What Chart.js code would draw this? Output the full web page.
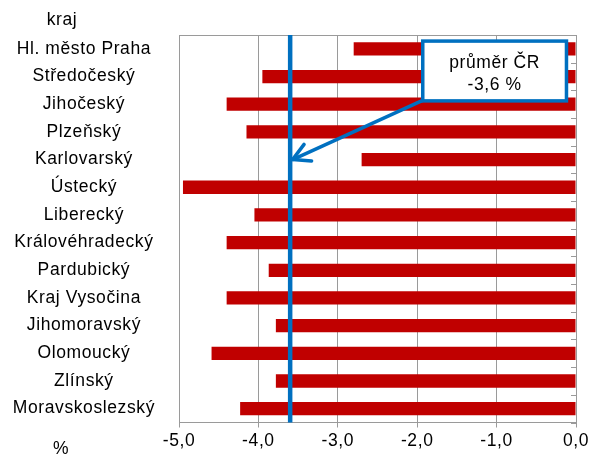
<!DOCTYPE html>
<html>
<head>
<meta charset="utf-8">
<script src="https://cdn.jsdelivr.net/npm/chart.js@4/dist/chart.umd.min.js"></script>
<style>
  html, body { margin: 0; padding: 0; background: #fff; }
  #wrap { width: 591px; height: 457px; }
</style>
</head>
<body>
<div id="wrap"><canvas id="graf"></canvas></div>
<script>
// kraje a meziroční změna v %
const kraje = ["Hl. město Praha", "Středočeský", "Jihočeský", "Plzeňský", "Karlovarský", "Ústecký",
  "Liberecký", "Královéhradecký", "Pardubický", "Kraj Vysočina", "Jihomoravský", "Olomoucký",
  "Zlínský", "Moravskoslezský"];
const zmena = [-2.8, -3.95, -4.4, -4.15, -2.7, -4.95, -4.05, -4.4, -3.87, -4.4, -3.78, -4.59, -3.78, -4.23];
const prumerCR = -3.6;
const osaX = [-5, -4, -3, -2, -1, 0];

const seda = "#9a9a9a";
const font = { family: "'Liberation Sans', Arial, sans-serif", size: 17.5 };
const rozpal = "0.6px"; // písmo v originále je o něco širší

function cislo(v) {
  return v.toFixed(1).replace(".", ",");
}

// širší proložení písma (stav kontextu se při změně velikosti plátna maže)
const pismo = {
  id: "pismo",
  beforeUpdate(chart) { chart.ctx.letterSpacing = rozpal; },
  beforeLayout(chart) { chart.ctx.letterSpacing = rozpal; },
  beforeDraw(chart) { chart.ctx.letterSpacing = rozpal; }
};

// průměrná čára, popisek se šipkou a nadpisy os
const doplnky = {
  id: "doplnky",
  afterDatasetsDraw(chart) {
    const c = chart.ctx;
    const x = chart.scales.x, y = chart.scales.y;
    const a = chart.chartArea;
    c.save();

    // rámeček grafu
    c.strokeStyle = seda;
    c.lineWidth = 1;
    c.beginPath();
    c.moveTo(a.left, a.top + 0.5);
    c.lineTo(a.right, a.top + 0.5);
    c.stroke();
    // drobné značky na svislé ose
    for (let i = 0; i <= kraje.length; i++) {
      const py = Math.round(y.getPixelForValue(i - 0.5)) + 0.5;
      c.beginPath();
      c.moveTo(a.right - 5, py);
      c.lineTo(a.right, py);
      c.stroke();
    }

    // průměr ČR
    const px = x.getPixelForValue(prumerCR);
    c.strokeStyle = "#0070C0";
    c.lineWidth = 4.5;
    c.beginPath();
    c.moveTo(px, a.top);
    c.lineTo(px, a.bottom);
    c.stroke();

    // šipka
    const bx1 = x.getPixelForValue(-1.93), bx2 = x.getPixelForValue(-0.12);
    const by1 = y.getPixelForValue(-0.28), by2 = y.getPixelForValue(1.88);
    const tx = px + 2.5, ty = y.getPixelForValue(4);
    const sx = bx1 + 1, sy = by2 - 1;
    c.lineWidth = 3.5;
    c.lineCap = "round";
    c.beginPath();
    c.moveTo(sx, sy);
    c.lineTo(tx, ty);
    c.stroke();
    const uhel = Math.atan2(sy - ty, sx - tx);
    const d = 19, r = 0.5;
    c.beginPath();
    c.moveTo(tx + d * Math.cos(uhel - r), ty + d * Math.sin(uhel - r));
    c.lineTo(tx, ty);
    c.lineTo(tx + d * Math.cos(uhel + r), ty + d * Math.sin(uhel + r));
    c.stroke();

    // rámeček s popiskem
    c.lineCap = "butt";
    c.fillStyle = "#fff";
    c.fillRect(bx1, by1, bx2 - bx1, by2 - by1);
    c.lineWidth = 3.5;
    c.strokeRect(bx1, by1, bx2 - bx1, by2 - by1);
    c.fillStyle = "#000";
    c.font = "17.5px 'Liberation Sans', Arial, sans-serif";
    c.letterSpacing = rozpal;
    c.textAlign = "center";
    c.textBaseline = "middle";
    const stred = (bx1 + bx2) / 2;
    c.fillText("průměr ČR", stred, by1 + 22);
    c.fillText(cislo(prumerCR) + " %", stred, by1 + 44);

    // popisky os
    c.fillText("kraj", 62, 20);
    c.fillText("%", 61, 449);
    c.restore();
  }
};

new Chart(document.getElementById("graf"), {
  type: "bar",
  data: {
    labels: kraje,
    datasets: [{
      data: zmena,
      backgroundColor: "#C00000",
      borderWidth: 0,
      barPercentage: 0.48,
      categoryPercentage: 1
    }]
  },
  options: {
    indexAxis: "y",
    responsive: true,
    maintainAspectRatio: false,
    animation: false,
    layout: { padding: { left: 0, right: 15, top: 35, bottom: 0 } },
    plugins: {
      legend: { display: false },
      tooltip: { enabled: false }
    },
    scales: {
      x: {
        min: osaX[0],
        max: osaX[osaX.length - 1],
        afterBuildTicks(scale) {
          scale.ticks = osaX.map(v => ({ value: v }));
        },
        afterFit(scale) {
          scale.height = 34;
          scale.paddingRight = 0;
          scale.paddingLeft = 0;
        },
        grid: { color: seda, tickLength: 5, lineWidth: 1 },
        border: { color: seda },
        ticks: {
          color: "#000",
          font: font,
          padding: 3,
          maxRotation: 0,
          callback: v => cislo(v)
        }
      },
      y: {
        afterFit(scale) { scale.width = 179; },
        grid: { display: false, drawTicks: false },
        border: { color: seda },
        ticks: {
          color: "#000",
          font: font,
          padding: 24,
          crossAlign: "center",
          autoSkip: false
        }
      }
    }
  },
  plugins: [pismo, doplnky]
});
</script>
</body>
</html>
